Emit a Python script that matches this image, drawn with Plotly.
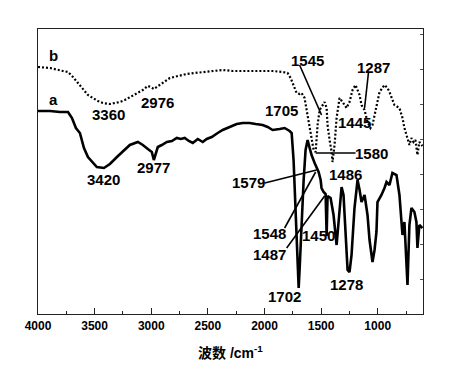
import plotly.graph_objects as go

# ---- data (wavenumber cm-1, transmittance a.u.) ----
a_wn = [4000, 3894, 3806, 3735, 3700, 3665, 3630, 3594, 3559, 3515, 3480, 3418, 3365, 3303, 3250,
        3189, 3118, 3074, 3030, 2995, 2977, 2959, 2942, 2907, 2862, 2818, 2774, 2739, 2704, 2668,
        2633, 2589, 2545, 2510, 2466, 2413, 2369, 2307, 2245, 2192, 2131, 2078, 2016, 1972, 1928,
        1866, 1822, 1778, 1760, 1743, 1725, 1707, 1698, 1690, 1672, 1654, 1637, 1619, 1601, 1584,
        1557, 1540, 1522, 1504, 1496, 1478, 1460, 1451, 1443, 1416, 1390, 1363, 1346, 1319, 1302,
        1284, 1266, 1249, 1231, 1205, 1178, 1160, 1143, 1116, 1090, 1072, 1046, 1028, 1011, 1002,
        967, 940, 922, 896, 870, 834, 808, 790, 781, 764, 746, 737, 720, 702, 676, 658, 649, 632, 605]
a_t = [203, 203, 202, 202, 196, 186, 181, 166, 157, 151, 147, 146, 150, 157, 163,
       169, 172, 169, 165, 162, 154, 160, 167, 169, 172, 173, 176, 175, 176, 173,
       171, 175, 172, 175, 177, 181, 184, 187, 190, 191, 191, 190, 189, 187, 184,
       185, 186, 183, 181, 154, 104, 44, 26, 44, 94, 134, 164, 174, 166, 159,
       151, 146, 142, 134, 126, 122, 120, 78, 118, 116, 99, 69, 89, 127, 119,
       84, 44, 42, 59, 106, 134, 124, 112, 119, 99, 74, 52, 64, 82, 112,
       119, 126, 132, 129, 141, 139, 119, 92, 79, 92, 49, 29, 89, 106, 102, 92, 66, 89, 86]

b_wn = [4000, 3894, 3780, 3735, 3691, 3647, 3603, 3559, 3515, 3471, 3427, 3365, 3321, 3277, 3233,
        3189, 3127, 3074, 3030, 3004, 2977, 2951, 2924, 2880, 2836, 2765, 2686, 2616, 2545, 2457,
        2369, 2280, 2192, 2104, 2016, 1928, 1840, 1796, 1769, 1743, 1716, 1690, 1672, 1646, 1619,
        1602, 1584, 1566, 1548, 1531, 1513, 1496, 1478, 1469, 1451, 1443, 1425, 1407, 1399, 1381,
        1363, 1337, 1310, 1275, 1249, 1222, 1196, 1178, 1160, 1143, 1116, 1090, 1064, 1046, 1028,
        1011, 984, 940, 914, 896, 852, 808, 781, 764, 746, 728, 720, 702, 684, 667, 658, 649, 632, 614, 605]
b_t = [247, 246, 243, 242, 237, 231, 224, 219, 216, 213, 211, 210, 211, 212, 214,
       217, 221, 224, 228, 227, 225, 227, 229, 233, 236, 238, 240, 241, 242, 243,
       244, 243, 243, 243, 243, 243, 242, 241, 236, 228, 221, 220, 221, 216, 199,
       186, 176, 164, 162, 189, 204, 207, 210, 212, 206, 189, 174, 162, 152, 169,
       196, 216, 212, 206, 212, 224, 229, 224, 219, 209, 204, 192, 186, 189, 199,
       209, 222, 229, 226, 222, 209, 206, 196, 186, 179, 174, 169, 176, 172, 174, 168, 159, 172, 169, 168]

curve_names = ["a", "b"]
peak_labels = ["3420", "2977", "1579", "1548", "1487", "1450", "1486", "1702", "1278",
               "3360", "2976", "1705", "1545", "1580", "1445", "1287"]
x_ticks = [4000, 3500, 3000, 2500, 2000, 1500, 1000]
x_title = "波数 /cm<sup>-1</sup>"

fig = go.Figure()
fig.add_trace(go.Scatter(x=a_wn, y=a_t, mode="lines", name=curve_names[0],
                         line=dict(color="black", width=2.6), showlegend=False))
fig.add_trace(go.Scatter(x=b_wn, y=b_t, mode="lines", name=curve_names[1],
                         line=dict(color="black", width=2.2, dash="2px,2px"), showlegend=False))

FONT = "Liberation Sans, Arial, Noto Sans CJK SC"

# label placements (x in cm-1, y in a.u.)
label_pos = {
    "3420": (3418, 135), "2977": (2977, 147), "1579": (2139, 132), "1548": (1954, 81),
    "1487": (1954, 60), "1450": (1522, 79), "1486": (1284, 140), "1702": (1822, 18),
    "1278": (1275, 30), "3360": (3374, 200), "2976": (2942, 212), "1705": (1848, 204),
    "1545": (1619, 254), "1580": (1055, 161), "1445": (1205, 192), "1287": (1037, 247),
}
ann = []
for lab in peak_labels:
    x, y = label_pos[lab]
    ann.append(dict(x=x, y=y, xref="x", yref="y", text="<b>%s</b>" % lab, showarrow=False,
                    font=dict(family=FONT, size=15, color="black")))
for nm, (x, y) in zip(curve_names, [(3859, 215), (3859, 259)]):
    ann.append(dict(x=x, y=y, xref="x", yref="y", text="<b>%s</b>" % nm, showarrow=False,
                    font=dict(family=FONT, size=15, color="black")))
ann.append(dict(x=0.5, y=-0.133, xref="paper", yref="paper", text="<b>%s</b>" % x_title,
                showarrow=False, yanchor="middle",
                font=dict(family=FONT, size=14, color="black")))

leaders = [((1690, 249), (1496, 199)), ((1081, 242), (1116, 206)), ((1548, 161), (1196, 161)),
           ((1998, 131), (1540, 144)), ((1822, 86), (1548, 142)), ((1804, 66), (1469, 118))]
shapes = [dict(type="line", xref="x", yref="y", x0=p[0], y0=p[1], x1=q[0], y1=q[1],
               line=dict(color="black", width=1.6)) for p, q in leaders]

fig.update_layout(
    width=443, height=365,
    margin=dict(l=30, r=28, t=21, b=59),
    paper_bgcolor="white", plot_bgcolor="white",
    annotations=ann, shapes=shapes,
    xaxis=dict(range=[4000, 600], tickmode="array", tickvals=x_ticks,
               ticktext=["<b>%d</b>" % v for v in x_ticks],
               ticks="inside", ticklen=6, tickwidth=1, tickcolor="#222",
               minor=dict(ticks="inside", ticklen=3, dtick=250, tick0=0, tickcolor="#222"),
               showline=True, linecolor="#222", linewidth=1.3, mirror=True,
               showgrid=False, zeroline=False,
               tickfont=dict(family=FONT, size=12, color="black")),
    yaxis=dict(range=[0, 285], side="right", ticks="inside", ticklen=3, tickcolor="#555",
               dtick=35, tick0=0, showticklabels=False,
               showline=True, linecolor="#222", linewidth=1.3, mirror=True,
               showgrid=False, zeroline=False),
)

fig.write_html("out.html")
